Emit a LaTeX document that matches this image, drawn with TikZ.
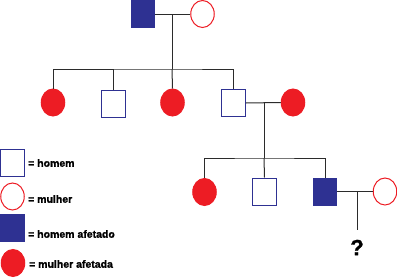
\documentclass[tikz,border=0pt]{standalone}
\usepackage{fontspec}
\setmainfont{Liberation Sans}[BoldFeatures={FakeBold=1.2}]
\usetikzlibrary{shapes.geometric}
\definecolor{pblue}{HTML}{2E3192}
\definecolor{pred}{HTML}{ED1C24}
\definecolor{pline}{HTML}{2B2B2B}
\begin{document}
\begin{tikzpicture}[x=1pt,y=-1pt,
  male/.style={draw=pblue,fill=white,line width=1pt,minimum width=23.5pt,minimum height=27pt,inner sep=0pt},
  amale/.style={draw=pblue,fill=pblue,line width=1pt,minimum width=23.5pt,minimum height=27pt,inner sep=0pt},
  female/.style={ellipse,draw=pred,fill=white,line width=1pt,minimum width=23.5pt,minimum height=27pt,inner sep=0pt},
  afemale/.style={ellipse,draw=pred,fill=pred,line width=1pt,minimum width=23.5pt,minimum height=27pt,inner sep=0pt},
  link/.style={draw=pline,line width=1pt},
  lbl/.style={anchor=west,inner sep=0pt,font=\fontsize{10.5}{12}\selectfont\bfseries}]
\useasboundingbox (0,0) rectangle (397,277);
% generation I
\node[amale] (g1m) at (143,14) {};
\node[female] (g1f) at (202.5,14) {};
\coordinate (m1) at (172,14);
\coordinate (s1) at (172,69);
% generation II
\node[afemale] (c1) at (53,102.5) {};
\node[male] (c2) at (113.5,103.5) {};
\node[afemale] (c3) at (172.5,102.5) {};
\node[male] (c4) at (233.5,103) {};
\node[afemale] (c5) at (293,102.5) {};
\coordinate (m2) at (264,103);
\coordinate (s2) at (264,158);
% generation III
\node[afemale] (d1) at (204.5,192) {};
\node[male] (d2) at (264.5,191.5) {};
\node[amale] (d3) at (325,191.5) {};
\node[female] (d4) at (385,191.5) {};
\coordinate (m3) at (357,192);
\coordinate (q) at (357,230);
% connectors
\draw[link] (g1m.east) -- (g1f.west);
\draw[link] (m1) -- (s1);
\draw[link] (c1.north) |- (s1) -| (c4.north);
\draw[link] (c2.north) -- (c2.north |- s1);
\draw[link] (c3.north) -- (s1);
\draw[link] (c4.east) -- (c5.west);
\draw[link] (m2) -- (s2);
\draw[link] (d1.north) |- (s2) -| (d3.north);
\draw[link] (d2.north) -- (s2);
\draw[link] (d3.east) -- (d4.west);
\draw[link] (m3) -- (q);
\node[inner sep=0pt,font=\fontsize{22}{24}\selectfont\bfseries] (qm) at (357,247.5) {?};
% legend
\node[male] (l1) at (12.5,162.5) {};
\node[lbl] (t1) at (28,163) {= homem};
\node[female] (l2) at (12.5,196.5) {};
\node[lbl] (t2) at (28,199) {= mulher};
\node[amale] (l3) at (12.5,228) {};
\node[lbl] (t3) at (28,234) {= homem afetado};
\node[afemale] (l4) at (13,263) {};
\node[lbl] (t4) at (29,264) {= mulher afetada};
\end{tikzpicture}
\end{document}
